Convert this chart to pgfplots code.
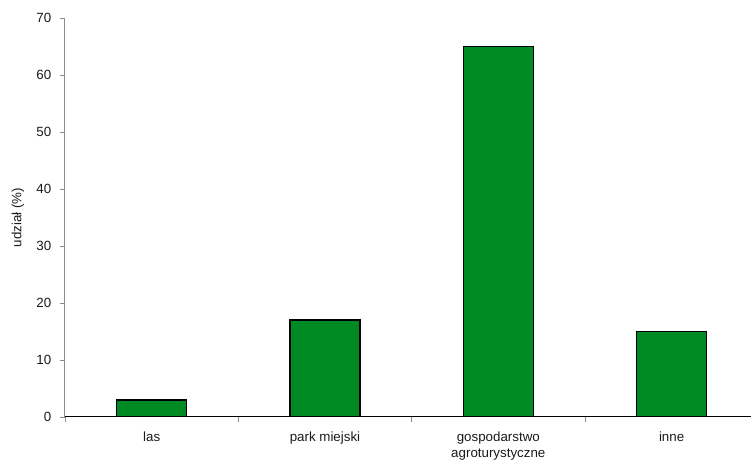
\documentclass[border=0pt]{standalone}
\usepackage{fontspec}
\setmainfont{Liberation Sans}
\usepackage{pgfplots}
\pgfplotsset{compat=1.18}

\definecolor{bargreen}{HTML}{008A24}
\definecolor{axgray}{HTML}{8C8C8C}
\definecolor{txt}{HTML}{1A1A1A}

\begin{document}
\begin{tikzpicture}[font=\fontsize{10}{12}\selectfont]
% 1 px of the reference = 0.75pt
\path[use as bounding box] (-48.75pt,-32.25pt) rectangle (514.5pt,312.75pt);
\begin{axis}[
    scale only axis,
    width=514.5pt, height=299.25pt,
    xmin=-0.5, xmax=3.458,
    ymin=0, ymax=70,
    ytick={0,10,...,70},
    xtick={0,1,2,3},
    xticklabels={las, park miejski, {gospodarstwo\\agroturystyczne}, inne},
    minor xtick={-0.5,0.5,1.5,2.5},
    every major x tick/.style={draw=none},
    every minor x tick/.style={draw=axgray, line width=0.6pt},
    axis x line*=bottom, axis y line*=left,
    x axis line style={black, line width=0.75pt},
    y axis line style={axgray, line width=0.75pt},
    ytick style={axgray, line width=0.6pt},
    tick align=outside,
    major tick length=3.75pt,
    minor tick length=3.75pt,
    tick label style={font=\fontsize{10}{12}\selectfont, text=txt},
    yticklabel style={xshift=-3pt},
    xticklabel style={align=center, yshift=-4pt},
    /pgf/number format/assume math mode=true,
    ylabel={udział (\%)},
    ylabel style={at={(axis description cs:-0.0685,0.5)}, anchor=center,
                  font=\fontsize{10}{12}\selectfont, text=txt},
    ybar, bar width=52.5pt,
]
\addplot[fill=bargreen, draw=black, line width=1.1pt] coordinates {(0,3) (1,17) (2,65) (3,15)};
\end{axis}
\end{tikzpicture}
\end{document}
